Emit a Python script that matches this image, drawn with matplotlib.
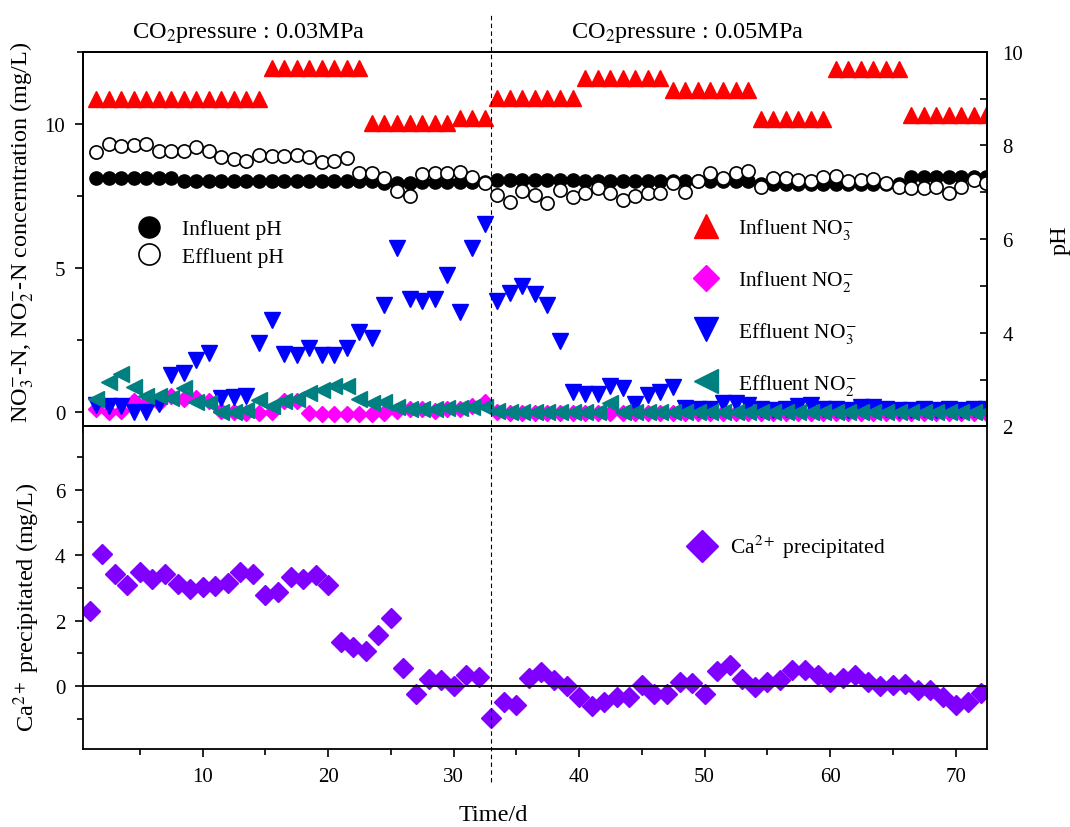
import matplotlib
matplotlib.use('Agg')
import matplotlib.pyplot as plt
from matplotlib.ticker import MultipleLocator

plt.rcParams['font.family'] = ['Liberation Serif', 'DejaVu Serif']
plt.rcParams['mathtext.fontset'] = 'stix'

days = list(range(1, 73))

# influent / effluent nitrogen (mg/L)
inf_no3 = [10.85] * 14 + [11.95] * 8 + [10.03] * 7 + [10.2] * 3 + [10.9] * 7 \
    + [11.6] * 7 + [11.17] * 7 + [10.15] * 6 + [11.9] * 6 + [10.3] * 7
inf_no2 = [0.1, 0.0, 0.05, 0.4, 0.3, 0.3, 0.55, 0.45, 0.5, 0.4,
           0.05, 0.0, -0.02, -0.02, 0.0, 0.4, 0.4, -0.03, -0.05, -0.05,
           -0.05, -0.05, -0.05, -0.03, 0.05, 0.1, 0.1, 0.05, 0.1, 0.1,
           0.2, 0.35, 0.0, -0.02, -0.02, -0.02, -0.02, -0.02, -0.02, -0.02,
           -0.02, -0.02, -0.02, -0.02, -0.02, -0.02, -0.02, -0.02, -0.02, -0.02,
           -0.02, -0.02, -0.02, -0.02, -0.02, -0.02, -0.02, -0.02, -0.02, -0.02,
           -0.02, -0.02, -0.02, -0.02, -0.02, -0.02, -0.02, -0.02, -0.02, -0.02,
           -0.02, -0.02]
eff_no3 = [0.25, 0.2, 0.22, 0.02, 0.02, 0.28, 1.28, 1.36, 1.8, 2.05,
           0.5, 0.52, 0.55, 2.4, 3.19, 2.0, 1.97, 2.23, 1.97, 1.97,
           2.23, 2.79, 2.58, 3.7, 5.7, 3.91, 3.85, 3.93, 4.74, 3.47,
           5.7, 6.54, 3.85, 4.14, 4.39, 4.08, 3.73, 2.46, 0.68, 0.63,
           0.63, 0.9, 0.82, 0.27, 0.6, 0.68, 0.87, 0.15, 0.1, 0.1,
           0.3, 0.32, 0.25, 0.1, 0.08, 0.1, 0.22, 0.25, 0.1, 0.1,
           0.08, 0.18, 0.18, 0.1, 0.08, 0.08, 0.1, 0.08, 0.1, 0.08,
           0.1, 0.1]
eff_no2 = [0.46, 1.05, 1.31, 0.88, 0.55, 0.55, 0.5, 0.84, 0.36, 0.3,
           -0.01, 0.0, 0.08, 0.43, 0.2, 0.37, 0.44, 0.66, 0.78, 0.92,
           0.9, 0.46, 0.33, 0.36, 0.16, 0.12, 0.12, 0.12, 0.14, 0.15,
           0.17, 0.18, 0.05, 0.02, 0.02, 0.02, 0.02, 0.02, 0.02, 0.02,
           0.02, 0.3, 0.02, 0.02, 0.02, 0.02, 0.02, 0.02, 0.02, 0.02,
           0.02, 0.02, 0.02, 0.02, 0.02, 0.02, 0.02, 0.02, 0.02, 0.02,
           0.02, 0.02, 0.02, 0.02, 0.02, 0.02, 0.02, 0.02, 0.02, 0.02,
           0.02, 0.02]

# pH
inf_ph = [7.3] * 7 + [7.23] * 16 + [7.19] * 3 + [7.22] * 6 + [7.27] * 7 \
    + [7.23] * 7 + [7.25] * 7 + [7.17] * 12 + [7.33] * 7
eff_ph = [7.85, 8.03, 7.99, 8.01, 8.03, 7.87, 7.87, 7.89, 7.96, 7.87,
          7.75, 7.71, 7.67, 7.8, 7.78, 7.78, 7.8, 7.75, 7.64, 7.67,
          7.72, 7.4, 7.42, 7.3, 7.03, 6.92, 7.39, 7.42, 7.42, 7.44,
          7.33, 7.19, 6.94, 6.8, 7.03, 6.94, 6.76, 7.05, 6.89, 6.98,
          7.08, 6.99, 6.83, 6.92, 6.99, 6.99, 7.19, 7.01, 7.23, 7.4,
          7.3, 7.4, 7.46, 7.12, 7.3, 7.3, 7.26, 7.23, 7.33, 7.35,
          7.23, 7.26, 7.28, 7.2, 7.12, 7.1, 7.08, 7.11, 6.99, 7.12,
          7.27, 7.2]

# Ca2+ precipitated (mg/L)
ca_prec = [2.29, 4.02, 3.43, 3.1, 3.5, 3.28, 3.43, 3.12, 2.97, 3.02,
           3.07, 3.15, 3.5, 3.43, 2.77, 2.89, 3.33, 3.28, 3.4, 3.1,
           1.34, 1.19, 1.06, 1.57, 2.08, 0.55, -0.23, 0.22, 0.19, 0.02,
           0.35, 0.27, -0.98, -0.47, -0.57, 0.24, 0.43, 0.2, 0.02, -0.34,
           -0.59, -0.47, -0.34, -0.34, 0.05, -0.23, -0.23, 0.12, 0.09, -0.25,
           0.45, 0.66, 0.22, -0.01, 0.14, 0.2, 0.51, 0.51, 0.35, 0.12,
           0.24, 0.35, 0.12, 0.02, 0.05, 0.07, -0.13, -0.1, -0.34, -0.57,
           -0.47, -0.21]

fig = plt.figure(figsize=(10.7, 8.28), dpi=100)
ax1 = fig.add_axes([0.078, 0.4837, 0.8444, 0.4527])
ax2 = fig.add_axes([0.078, 0.0948, 0.8444, 0.3891])
ax1r = ax1.twinx()

l1, = ax1.plot(days, inf_no3, ls='none', marker='^', ms=11, color='#ff0000',
               label=r'Influent NO$_3^{-}$')
l2, = ax1.plot(days, inf_no2, ls='none', marker='D', ms=8, color='#ff00ff',
               label=r'Influent NO$_2^{-}$')
l3, = ax1.plot(days, eff_no3, ls='none', marker='v', ms=11, color='#0000ff',
               label=r'Effluent NO$_3^{-}$')
l4, = ax1.plot(days, eff_no2, ls='none', marker='<', ms=11, color='#008080',
               label=r'Effluent NO$_2^{-}$')
p1, = ax1r.plot(days, inf_ph, ls='none', marker='o', ms=9.5, color='black',
                label='Influent pH')
p2, = ax1r.plot(days, eff_ph, ls='none', marker='o', ms=9.5, mfc='white',
                mec='black', mew=1.2, label='Effluent pH')

c1, = ax2.plot(days, ca_prec, ls='none', marker='D', ms=10, color='#7f00ff',
               label=r'Ca$^{2+}$ precipitated')
ax2.axhline(0, color='black', lw=1.3)
ax2.axvline(33, ymin=-0.104, ymax=2.283, clip_on=False, color='black',
            lw=0.8, ls=(0, (4, 3)))

ax1.set_xlim(0, 72.05)
ax1.set_ylim(-0.5, 12.5)
ax1r.set_ylim(2, 10)
ax2.set_xlim(0.5, 72.5)
ax2.set_ylim(-1.9, 7.93)

for ax in (ax1, ax1r, ax2):
    for sp in ax.spines.values():
        sp.set_linewidth(1.3)

ax1.xaxis.set_major_locator(MultipleLocator(5))
ax1.tick_params(axis='x', direction='out', length=5, width=1.2,
                labelbottom=False, top=False)
ax1.yaxis.set_major_locator(MultipleLocator(5))
ax1.yaxis.set_minor_locator(MultipleLocator(2.5))
ax1.tick_params(axis='y', which='both', direction='out', width=1.2,
                labelsize=15, pad=7, right=False)
ax1.tick_params(axis='y', which='major', length=6)
ax1.tick_params(axis='y', which='minor', length=4)

ax1r.yaxis.set_major_locator(MultipleLocator(2))
ax1r.yaxis.set_minor_locator(MultipleLocator(1))
ax1r.tick_params(axis='y', which='both', direction='in', width=1.2,
                 labelsize=15, pad=11, length=5)

ax2.xaxis.set_major_locator(MultipleLocator(10))
ax2.xaxis.set_minor_locator(MultipleLocator(5))
ax2.yaxis.set_major_locator(MultipleLocator(2))
ax2.yaxis.set_minor_locator(MultipleLocator(1))
ax2.tick_params(which='both', direction='out', width=1.2, labelsize=15,
                pad=7, top=False, right=False)
ax2.tick_params(which='major', length=6)
ax2.tick_params(which='minor', length=4)

ax1.set_ylabel(r'NO$_3^{-}$-N, NO$_2^{-}$-N concerntration (mg/L)', fontsize=17.5)
ax1.yaxis.set_label_coords(-0.053, 0.52)
ax1r.set_ylabel('pH', fontsize=17.5)
ax1r.yaxis.set_label_coords(1.069, 0.5)
ax2.set_ylabel(r'Ca$^{2+}$ precipitated (mg/L)', fontsize=17.5)
ax2.yaxis.set_label_coords(-0.046, 0.442)
ax2.set_xlabel('Time/d', fontsize=17.5)
ax2.xaxis.set_label_coords(0.454, -0.172)

fig.text(249 / 1070, 1 - 33 / 828, r'CO$_2$pressure : 0.03MPa',
         ha='center', va='center', fontsize=17.5)
fig.text(688 / 1070, 1 - 33 / 828, r'CO$_2$pressure : 0.05MPa',
         ha='center', va='center', fontsize=17.5)

leg_kw = dict(frameon=False, fontsize=15.5, handlelength=1.0, borderpad=0,
              borderaxespad=0, markerscale=1.6)
leg1 = ax1r.legend(handles=[p1, p2], loc='upper left',
                   bbox_to_anchor=(0.0607, 0.553), handletextpad=1.05,
                   labelspacing=0.35, **leg_kw)
ax1r.add_artist(leg1)
ax1r.legend(handles=[l1, l2, l3, l4], loc='upper left',
            bbox_to_anchor=(0.677, 0.561), handletextpad=1.0,
            labelspacing=1.25, **leg_kw)
ax2.legend(handles=[c1], loc='center left', bbox_to_anchor=(0.673, 0.626),
           handletextpad=0.8, **leg_kw)

fig.savefig('out.png', dpi=100)
